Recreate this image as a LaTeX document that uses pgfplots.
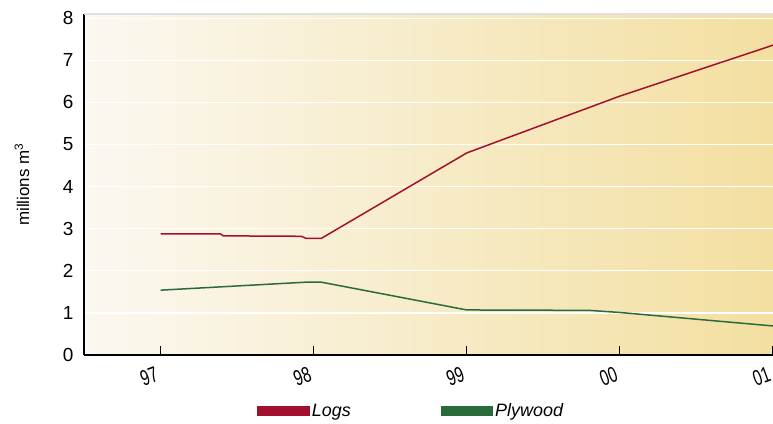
\documentclass[border=0pt]{standalone}
\usepackage{fontspec}
\setmainfont{Liberation Sans}
\newfontfamily\narrowfont{Liberation Sans}[FakeStretch=0.7]
\usepackage{pgfplots}
\pgfplotsset{compat=1.18}

\definecolor{logsred}{RGB}{163,16,47}
\definecolor{plygreen}{RGB}{42,107,60}
\definecolor{bgleft}{RGB}{251,248,241}
\definecolor{bgright}{RGB}{243,223,160}

\begin{document}
\begin{tikzpicture}
\begin{axis}[
    name=ax,
    scale only axis,
    width=689bp, height=341bp,
    xmin=96.5, xmax=101,
    ymin=0, ymax=8.1,
    /pgf/number format/assume math mode=true,
    axis x line=bottom, axis y line=left,
    axis line style={-, line width=1.4bp, black},
    axis background/.style={left color=bgleft, right color=bgright},
    xtick={97,98,99,100,101},
    xticklabels={97,98,99,00,01},
    ytick={0,1,...,8},
    ytick style={draw=none},
    xtick style={line width=1.2bp, black},
    tick align=inside,
    major tick length=9bp,
    ymajorgrids,
    grid style={white, line width=1.3bp},
    xticklabel style={font=\fontsize{22}{22}\selectfont\narrowfont, rotate=20, anchor=north east, xshift=-6bp, yshift=-5bp},
    yticklabel style={font=\fontsize{19}{19}\selectfont, xshift=-7bp},
    ylabel={millions m\textsuperscript{3}},
    every axis y label/.style={at={(axis description cs:-0.09,0.5)}, rotate=90, anchor=center, font=\fontsize{17}{17}\selectfont},
    legend columns=2,
    legend style={at={(axis description cs:0.247,-0.164)}, anchor=west, draw=none, fill=none,
        font=\fontsize{18}{18}\selectfont\itshape,
        /tikz/every even column/.append style={column sep=88bp}},
    legend image code/.code={\fill (0bp,-4.5bp) rectangle (51bp,4.5bp);},
    clip=false,
]
\draw[black!12, line width=2bp] (rel axis cs:0,1) -- (rel axis cs:1,1);
\addplot[logsred, line width=1.5bp] coordinates {
    (97,2.88) (97.39,2.88) (97.41,2.83) (97.92,2.82) (97.95,2.77) (98.05,2.77)
    (99,4.80) (100,6.15) (101,7.36)};
\addlegendentry{Logs}
\addplot[plygreen, line width=1.5bp] coordinates {
    (97,1.54) (97.2,1.58) (97.45,1.63) (97.7,1.68) (97.95,1.73) (98.05,1.73)
    (99,1.07) (99.8,1.06) (100,1.01) (101,0.69)};
\addlegendentry{Plywood}
\end{axis}
\pgfresetboundingbox
\path ([xshift=-84bp,yshift=-69bp]ax.south west) rectangle ([yshift=14bp]ax.north east);
\end{tikzpicture}
\end{document}
